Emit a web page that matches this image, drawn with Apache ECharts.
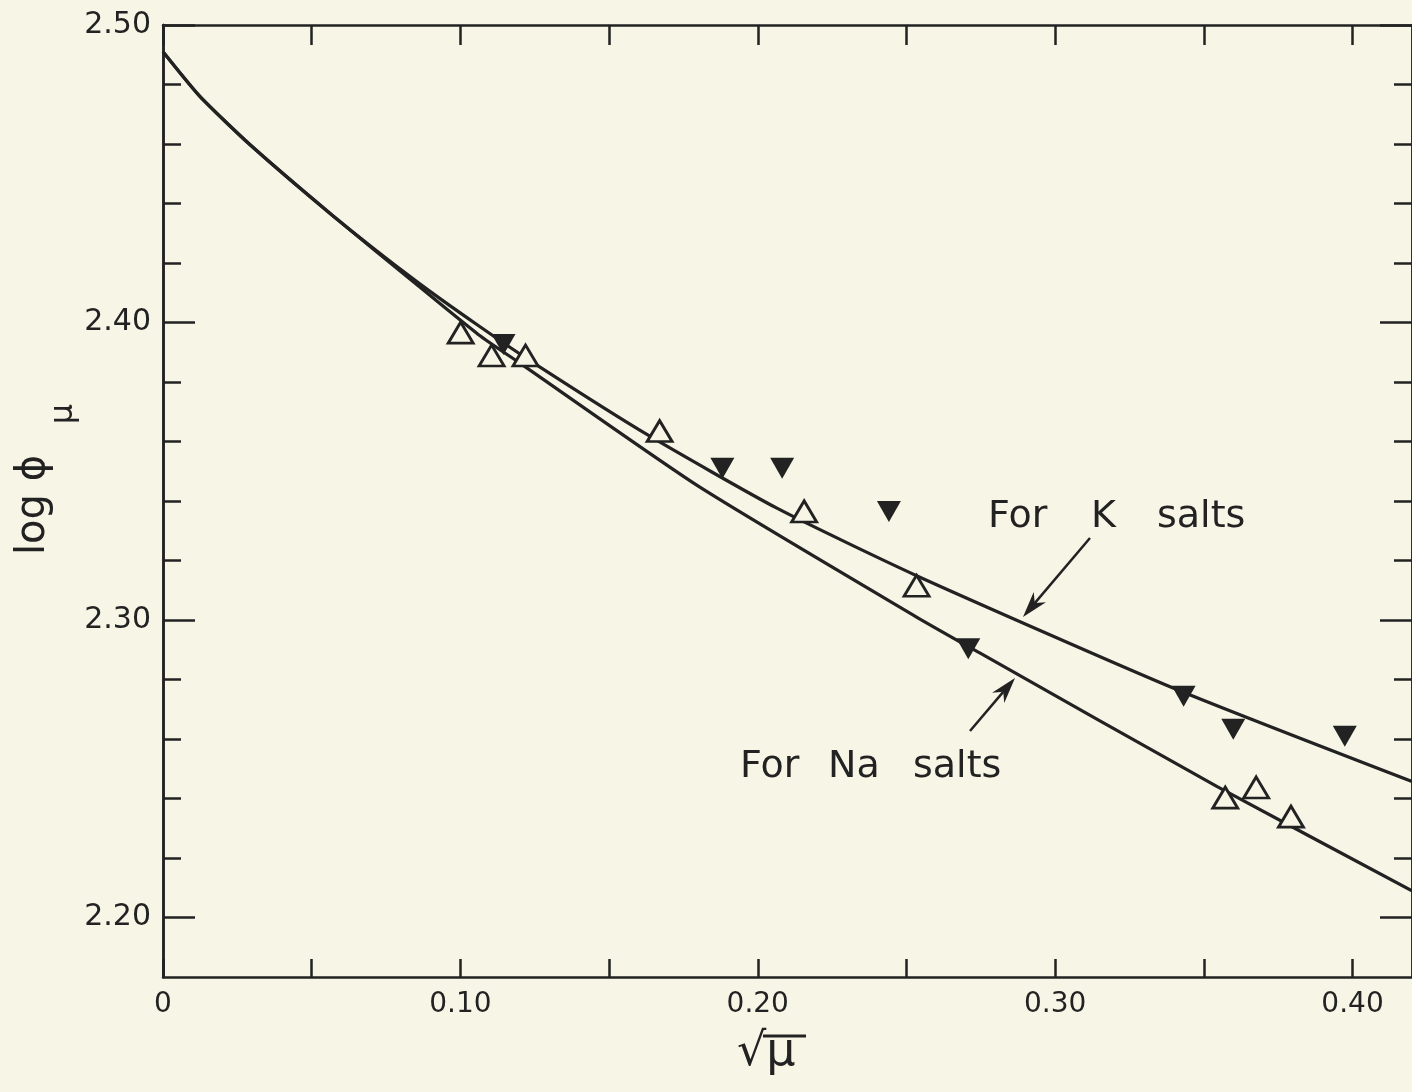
<!DOCTYPE html>
<html>
<head>
<meta charset="utf-8">
<script src="https://cdn.jsdelivr.net/npm/echarts@6/dist/echarts.min.js"></script>
<style>
html,body{margin:0;padding:0;background:#f6f5e6;}
#chart{width:1412px;height:1092px;}
</style>
</head>
<body>
<div id="chart"></div>
<script>
// ---- data ----
const kSaltsLine = [[0,2.491],[0.0124,2.476],[0.029,2.460],[0.057,2.436],[0.085,2.414],[0.106,2.399],[0.126,2.3855],[0.163,2.3622],[0.2066,2.3375],[0.2534,2.3149],[0.3405,2.2768],[0.42,2.2457]];
const naSaltsLine = [[0,2.491],[0.0124,2.476],[0.029,2.460],[0.057,2.436],[0.085,2.413],[0.106,2.396],[0.1205,2.386],[0.18,2.345],[0.2534,2.301],[0.2745,2.289],[0.3545,2.244],[0.42,2.209]];
const openTriangles = [[0.1001,2.3966],[0.1105,2.3889],[0.1219,2.3889],[0.1670,2.3635],[0.2156,2.3365],[0.2534,2.3115],[0.3572,2.2403],[0.3676,2.2437],[0.3793,2.2339]];
const filledTriangles = [[0.1145,2.3926],[0.1881,2.3510],[0.2082,2.3510],[0.2441,2.3365],[0.2708,2.2903],[0.3432,2.2744],[0.3599,2.2633],[0.3974,2.2609]];
const xTickValues = [0,0.05,0.10,0.15,0.20,0.25,0.30,0.35,0.40];
const xLabelValues = [0,0.10,0.20,0.30,0.40];
const yMajorValues = [2.20,2.30,2.40,2.50];
const yMinorValues = [2.22,2.24,2.26,2.28,2.32,2.34,2.36,2.38,2.42,2.44,2.46,2.48];
const xLabelText = v => v === 0 ? '0' : v.toFixed(2);
const yLabelText = v => v.toFixed(2);

const INK = '#222222';
const BG = '#f6f5e6';
const FONT = 'DejaVu Sans';

const chart = echarts.init(document.getElementById('chart'), null, {renderer:'canvas'});

function axisCommon(extra){
  return Object.assign({
    type:'value',
    splitLine:{show:false},
    axisLine:{show:true, onZero:false, lineStyle:{color:INK, width:2.5}},
  }, extra);
}

function arrow(x1,y1,x2,y2){
  const ang = Math.atan2(y2-y1, x2-x1);
  const L = 26, W = 8;
  const bx = x2 - L*Math.cos(ang), by = y2 - L*Math.sin(ang);
  const px = -Math.sin(ang)*W, py = Math.cos(ang)*W;
  return [
    {type:'line', shape:{x1:x1,y1:y1,x2:bx+L*0.3*Math.cos(ang),y2:by+L*0.3*Math.sin(ang)}, style:{stroke:INK, lineWidth:2.5}},
    {type:'polygon', shape:{points:[[x2,y2],[bx+px,by+py],[bx+L*0.3*Math.cos(ang),by+L*0.3*Math.sin(ang)],[bx-px,by-py]]}, style:{fill:INK}}
  ];
}

const txt = (x,y,s,size,align) => ({type:'text', x:x, y:y, style:{text:s, font:size+'px '+FONT, fill:INK, textAlign:align||'left', textVerticalAlign:'middle'}});

const option = {
  backgroundColor: BG,
  animation:false,
  grid:{left:163, top:25, right:-4, bottom:115, containLabel:false},
  xAxis:[
    axisCommon({position:'bottom', min:0, max:0.42, interval:0.05,
      axisTick:{show:true, inside:true, length:18, customValues:xTickValues, lineStyle:{color:INK, width:2.5}},
      axisLabel:{show:true, customValues:xLabelValues, formatter:xLabelText, fontSize:28, fontFamily:FONT, color:INK, margin:14}}),
    axisCommon({position:'top', min:0, max:0.42, interval:0.05,
      axisTick:{show:true, inside:true, length:20, customValues:xTickValues, lineStyle:{color:INK, width:2.5}},
      axisLabel:{show:false}})
  ],
  yAxis:[
    axisCommon({position:'left', min:2.18, max:2.50, interval:0.02,
      axisTick:{show:true, inside:true, length:32, customValues:yMajorValues, lineStyle:{color:INK, width:2.5}},
      axisLabel:{show:true, customValues:yMajorValues, formatter:yLabelText, fontSize:30, fontFamily:FONT, color:INK, margin:12}}),
    axisCommon({position:'left', min:2.18, max:2.50, interval:0.02,
      axisTick:{show:true, inside:true, length:18, customValues:yMinorValues, lineStyle:{color:INK, width:2.5}},
      axisLabel:{show:false}}),
    axisCommon({position:'right', min:2.18, max:2.50, interval:0.02,
      axisTick:{show:true, inside:true, length:32, customValues:yMajorValues, lineStyle:{color:INK, width:2.5}},
      axisLabel:{show:false}}),
    axisCommon({position:'right', min:2.18, max:2.50, interval:0.02,
      axisTick:{show:true, inside:true, length:18, customValues:yMinorValues, lineStyle:{color:INK, width:2.5}},
      axisLabel:{show:false}})
  ],
  series:[
    {name:'For K salts', type:'line', xAxisIndex:0, yAxisIndex:0, data:kSaltsLine, showSymbol:false, smooth:0.2, lineStyle:{color:INK, width:3.2}, z:2},
    {name:'For Na salts', type:'line', xAxisIndex:0, yAxisIndex:0, data:naSaltsLine, showSymbol:false, smooth:0.2, lineStyle:{color:INK, width:3.2}, z:2},
    {name:'open', type:'scatter', xAxisIndex:0, yAxisIndex:0, data:openTriangles, symbol:'triangle', symbolSize:[25,21], itemStyle:{color:BG, borderColor:INK, borderWidth:2.8, opacity:1}, z:5},
    {name:'filled', type:'scatter', xAxisIndex:0, yAxisIndex:0, data:filledTriangles, symbol:'triangle', symbolRotate:180, symbolSize:[24,21], itemStyle:{color:INK, opacity:1}, z:5}
  ],
  graphic:[].concat(
    [
      txt(988,517,'For',38), txt(1091,517,'K',38), txt(1157,517,'salts',38),
      txt(740,767,'For',38), txt(828,767,'Na',38), txt(913,767,'salts',38),
      {type:'text', x:34, y:505, rotation:Math.PI/2, style:{text:'log \u03D5', font:'40px '+FONT, fill:INK, textAlign:'center', textVerticalAlign:'middle'}},
      {type:'text', x:64, y:414, rotation:Math.PI/2, style:{text:'\u03BC', font:'32px '+FONT, fill:INK, textAlign:'center', textVerticalAlign:'middle'}},
      {type:'text', x:737, y:1030, style:{text:'\u221A\u03BC', font:'46px '+FONT, fill:INK, textAlign:'left', textVerticalAlign:'top'}},
      {type:'line', shape:{x1:763, y1:1036, x2:806, y2:1036}, style:{stroke:INK, lineWidth:3}}
    ],
    arrow(1090,538,1023,617),
    arrow(970,731,1015,678)
  )
};
chart.setOption(option);
</script>
</body>
</html>
